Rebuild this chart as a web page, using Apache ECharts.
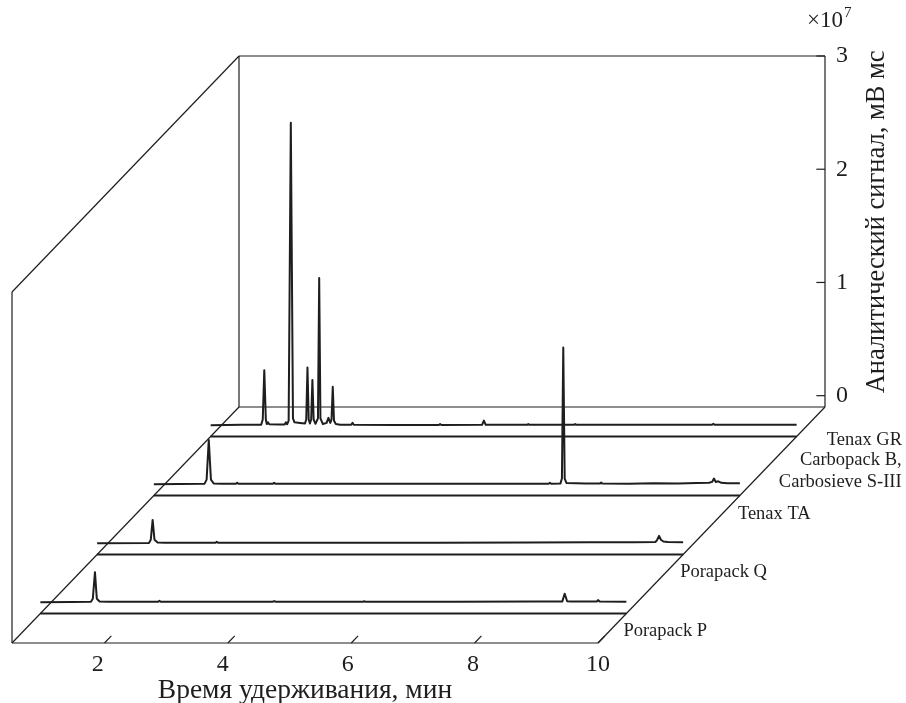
<!DOCTYPE html>
<html><head><meta charset="utf-8">
<script src="https://cdn.jsdelivr.net/npm/echarts@6/dist/echarts.min.js"></script>
<style>html,body{margin:0;padding:0;background:#fff}#c{width:906px;height:703px}</style>
</head><body><div id="c"></div>
<script>
// ---------- data ----------
const timeTicks = [2, 4, 6, 8, 10];          // min
const signalTicks = [0, 1, 2, 3];            // x 10^7 mV·ms
const sorbentLabels = ['Porapack P', 'Porapack Q', 'Tenax TA', 'Carbopack B,\nCarbosieve S-III', 'Tenax GR'];
const rowDepths = [1, 2, 3, 4];

// chromatograms: [time, signal ×10^7]
const porapackP = [[0.5,0],[1.0,0.002],[1.32,0.003],[1.35,0.03],[1.385,0.265],[1.415,0.03],[1.46,0.006],[1.6,0.003],
  [2.41,0.004],[2.43,0.012],[2.45,0.004],[4.27,0.004],[4.29,0.01],[4.31,0.004],[5.73,0.003],[5.75,0.008],[5.77,0.003],
  [7.2,0.004],[8.5,0.006],[8.96,0.005],[9.0,0.075],[9.04,0.008],[9.1,0.006],[9.52,0.005],[9.54,0.018],[9.57,0.005],[10,0.004]];
const porapackQ = [[0.5,0],[1.34,0.002],[1.37,0.03],[1.40,0.205],[1.43,0.03],[1.48,0.006],[1.6,0.003],
  [2.42,0.003],[2.44,0.012],[2.46,0.003],[4.5,0.004],[6.0,0.004],[7.5,0.006],[8.5,0.008],[9.2,0.008],
  [9.55,0.01],[9.58,0.03],[9.61,0.065],[9.64,0.03],[9.68,0.015],[9.75,0.01],[10,0.008]];
const tenaxTA = [[0.5,0],[1.32,0.003],[1.355,0.04],[1.39,0.39],[1.425,0.04],[1.47,0.006],[1.6,0.003],
  [1.83,0.003],[1.85,0.012],[1.87,0.003],[2.43,0.003],[2.45,0.012],[2.47,0.003],[4.0,0.003],
  [6.9,0.004],[6.92,0.012],[6.94,0.004],[7.09,0.005],[7.115,0.05],[7.137,1.207],[7.16,0.05],[7.19,0.01],
  [7.5,0.006],[7.73,0.005],[7.75,0.014],[7.77,0.005],[8.2,0.003],[8.6,0.008],[9.0,0.006],[9.3,0.01],
  [9.5,0.012],[9.55,0.02],[9.58,0.05],[9.61,0.02],[9.65,0.025],[9.7,0.012],[9.8,0.008],[10,0.008]];
const carbopack = [[0.5,0],[1.0,0.003],[1.32,0.004],[1.345,0.05],[1.37,0.486],[1.395,0.05],[1.41,0.01],[1.43,0.025],
  [1.45,0.008],[1.6,0.005],[1.70,0.006],[1.72,0.025],[1.74,0.008],[1.765,0.04],[1.80,2.67],[1.835,0.06],[1.86,0.025],
  [1.95,0.02],[2.03,0.015],[2.05,0.05],[2.07,0.51],[2.09,0.05],[2.11,0.015],[2.13,0.05],[2.15,0.40],[2.17,0.05],
  [2.20,0.012],[2.24,0.06],[2.26,1.30],[2.28,0.06],[2.32,0.01],[2.38,0.02],[2.41,0.065],[2.44,0.02],[2.46,0.05],
  [2.48,0.34],[2.50,0.04],[2.53,0.01],[2.6,0.004],[2.78,0.004],[2.80,0.02],[2.82,0.004],[3.5,0.002],[4.2,0.002],
  [4.22,0.01],[4.24,0.002],[4.90,0.003],[4.93,0.04],[4.96,0.003],[5.63,0.003],[5.65,0.01],[5.67,0.003],
  [6.39,0.003],[6.41,0.01],[6.43,0.003],[7.5,0.004],[8.63,0.004],[8.65,0.012],[8.67,0.004],[9.0,0.004],[10,0.003]];
const traces = [porapackP, porapackQ, tenaxTA, carbopack];

// ---------- layout / projection ----------
const T_MIN = 0.5, T_MAX = 10, Z_MIN = -0.1, Z_MAX = 3, D_MIN = 0.5, D_MAX = 4.5;
const DEPTH_PX = [227, -236];   // screen shift across the full depth range
const DX = DEPTH_PX[0] / (D_MAX - D_MIN), DY = DEPTH_PX[1] / (D_MAX - D_MIN);
const INK = '#1e1e1e';
const SERIF = '"Liberation Serif", "Times New Roman", serif';

function P(api, t, z, d) {
  const p = api.coord([t, z]);
  return [p[0] + (d - D_MIN) * DX, p[1] + (d - D_MIN) * DY];
}
function seg(api, a, b, w) {
  const p = P(api, a[0], a[1], a[2]), q = P(api, b[0], b[1], b[2]);
  return { type: 'line', shape: { x1: p[0], y1: p[1], x2: q[0], y2: q[1] },
    style: { stroke: INK, lineWidth: w || 1.2 } };
}
function txt(x, y, text, size, align, valign, extra) {
  return Object.assign({ type: 'text', x: x, y: y,
    style: { text: text, x: 0, y: 0, fill: INK, font: size + 'px ' + SERIF,
      textAlign: align, align: align, textVerticalAlign: valign, verticalAlign: valign, lineHeight: size * 1.2 } }, extra || {});
}

const boxSeries = {
  type: 'custom', coordinateSystem: 'cartesian2d', data: [0], silent: true, clip: false, z: 1,
  renderItem: function (params, api) {
    const ch = [];
    ch.push(seg(api, [T_MIN, Z_MIN, D_MIN], [T_MAX, Z_MIN, D_MIN]));
    ch.push(seg(api, [T_MIN, Z_MIN, D_MIN], [T_MIN, Z_MAX, D_MIN]));
    ch.push(seg(api, [T_MIN, Z_MAX, D_MIN], [T_MIN, Z_MAX, D_MAX]));
    ch.push(seg(api, [T_MIN, Z_MAX, D_MAX], [T_MAX, Z_MAX, D_MAX]));
    ch.push(seg(api, [T_MAX, Z_MAX, D_MAX], [T_MAX, Z_MIN, D_MAX]));
    ch.push(seg(api, [T_MIN, Z_MIN, D_MAX], [T_MIN, Z_MAX, D_MAX]));
    ch.push(seg(api, [T_MIN, Z_MIN, D_MAX], [T_MAX, Z_MIN, D_MAX]));
    ch.push(seg(api, [T_MIN, Z_MIN, D_MIN], [T_MIN, Z_MIN, D_MAX]));
    ch.push(seg(api, [T_MAX, Z_MIN, D_MIN], [T_MAX, Z_MIN, D_MAX]));
    // time ticks (pointing into depth) and their labels
    timeTicks.forEach(function (t) {
      ch.push(seg(api, [t, Z_MIN, D_MIN], [t, Z_MIN, D_MIN + 0.12]));
      const p = P(api, t, Z_MIN, D_MIN);
      ch.push(txt(p[0] - (T_MAX - t) * 0.85, p[1] + 22, String(t), 24, 'center', 'middle'));
    });
    // signal ticks + labels on back right edge
    signalTicks.forEach(function (z) {
      ch.push(seg(api, [T_MAX, z, D_MAX], [T_MAX - 0.14, z, D_MAX]));
      const p = P(api, T_MAX, z, D_MAX);
      ch.push(txt(p[0] + 17, p[1], String(z), 24, 'center', 'middle'));
    });
    const top = P(api, T_MAX, Z_MAX, D_MAX);
    ch.push(txt(top[0] + 18, top[1] - 35, '×10', 23, 'right', 'middle'));
    ch.push(txt(top[0] + 19, top[1] - 43, '7', 15, 'left', 'middle'));
    const mid = P(api, T_MAX, 1.5, D_MAX);
    ch.push(txt(mid[0] + 52, mid[1] - 4, 'Аналитический сигнал, мВ мс', 26.5, 'center', 'middle', { rotation: Math.PI / 2 }));
    // sorbent labels along the right floor edge
    const a1 = P(api, T_MAX, Z_MIN, 1), a2 = P(api, T_MAX, Z_MIN, 2), a3 = P(api, T_MAX, Z_MIN, 3),
          a4 = P(api, T_MAX, Z_MIN, 4), a5 = P(api, T_MAX, Z_MIN, D_MAX);
    ch.push(txt(a1[0] - 3, a1[1] + 18, sorbentLabels[0], 18.5, 'left', 'middle'));
    ch.push(txt(a2[0] - 3, a2[1] + 18, sorbentLabels[1], 18.5, 'left', 'middle'));
    ch.push(txt(a3[0] - 2, a3[1] + 19, sorbentLabels[2], 18.5, 'left', 'middle'));
    ch.push(txt(a4[0] + 105, a4[1] + 35, sorbentLabels[3], 18.5, 'right', 'middle'));
    ch.push(txt(a5[0] + 77, a5[1] + 33, sorbentLabels[4], 18.5, 'right', 'middle'));
    return { type: 'group', children: ch };
  }
};

const traceSeries = traces.map(function (tr, i) {
  const d = rowDepths[i];
  return {
    type: 'custom', coordinateSystem: 'cartesian2d', data: [0], silent: true, clip: false, z: 2,
    renderItem: function (params, api) {
      const pts = tr.map(function (v) { return P(api, v[0], v[1], d); });
      const f1 = P(api, T_MIN, Z_MIN, d), f2 = P(api, T_MAX, Z_MIN, d);
      return { type: 'group', children: [
        { type: 'polyline', shape: { points: [f1, f2] }, style: { stroke: INK, lineWidth: 2, fill: null } },
        { type: 'polyline', shape: { points: pts }, style: { stroke: INK, lineWidth: 2, fill: null, lineJoin: 'round' } }
      ] };
    }
  };
});

const chart = echarts.init(document.getElementById('c'));
chart.setOption({
  animation: false,
  backgroundColor: '#fff',
  grid: { left: 12, right: 308, top: 292, bottom: 60, outerBoundsMode: 'none', containLabel: false },
  xAxis: {
    type: 'value', min: T_MIN, max: T_MAX,
    axisLine: { show: false }, axisTick: { show: false }, splitLine: { show: false },
    axisLabel: { show: false },
    name: 'Время удерживания, мин', nameLocation: 'middle', nameGap: 34,
    nameTextStyle: { color: INK, fontFamily: SERIF, fontSize: 27.5 }
  },
  yAxis: { type: 'value', min: Z_MIN, max: Z_MAX, show: false },
  series: [boxSeries].concat(traceSeries)
});
</script></body></html>
